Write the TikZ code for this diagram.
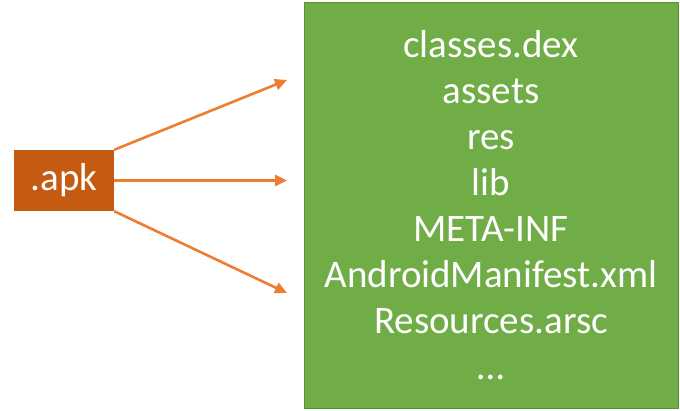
\documentclass[tikz,border=0pt]{standalone}
\usepackage{fontspec}
\setmainfont{Carlito}
\usepackage{tikz}
\usetikzlibrary{arrows.meta}
\definecolor{apkorange}{HTML}{C55A11}
\definecolor{arroworange}{HTML}{ED7D31}
\definecolor{boxgreen}{HTML}{70AD47}
\definecolor{boxborder}{HTML}{5A8F38}
\tikzstyle{apkfile} = [rectangle, minimum width=100pt, minimum height=61pt, text centered, fill=apkorange, text=white, font=\fontsize{39}{46}\selectfont]
\tikzstyle{content} = [rectangle, minimum width=374pt, minimum height=406pt, align=center, draw=boxborder, line width=0.8pt, fill=boxgreen, text=white, font=\fontsize{39}{46}\selectfont]
\tikzstyle{arrow} = [line width=2.6pt, arroworange, -{Triangle[length=12pt,width=11pt]}]

\begin{document}
\begin{tikzpicture}[x=1pt, y=1pt]
\useasboundingbox (0,0) rectangle (680,411);
\node (APK) [apkfile] at (64,230.5) {.apk};
\node (Contents) [content] at (491,206) {classes.dex\\ assets\\ res\\ lib\\ META-INF\\ AndroidManifest.xml\\ Resources.arsc\\ \dots};

\coordinate (TopTip) at (287,331);
\coordinate (MidTip) at (287,230.5);
\coordinate (LowTip) at (287,118);

\draw [arrow] (APK.north east) -- (TopTip);
\draw [arrow] (APK.east) -- (MidTip);
\draw [arrow] (APK.south east) -- (LowTip);
\end{tikzpicture}
\end{document}
